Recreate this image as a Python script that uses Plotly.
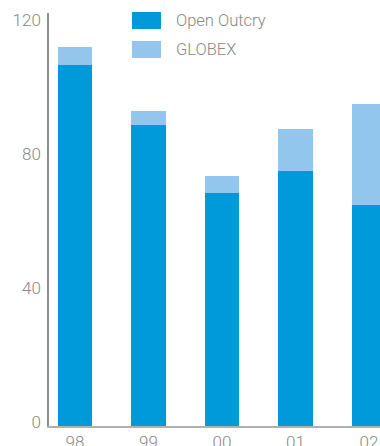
import plotly.graph_objects as go

years = ["98", "99", "00", "01", "02"]
open_outcry = [107.8, 89.9, 69.6, 76.1, 66.0]
globex = [5.4, 4.1, 5.0, 12.6, 30.1]
series_names = ["Open Outcry", "GLOBEX"]
series_colors = ["#0099da", "#93c6ec"]
y_ticks = [0, 40, 80, 120]

grey = "#888888"
font_family = "Roboto, Liberation Sans, Arial, sans-serif"

fig = go.Figure()
for name, vals, col in zip(series_names, [open_outcry, globex], series_colors):
    fig.add_trace(go.Bar(
        x=list(range(len(years))), y=vals, name=name,
        marker=dict(color=col, line=dict(width=0)),
        showlegend=False, hoverinfo="skip",
    ))

# legend drawn as wide swatches with labels
for i, (name, col) in enumerate(zip(series_names, series_colors)):
    top = 12 + i * 29
    fig.add_shape(type="rect", xref="paper", yref="paper",
                  x0=(132 - 49) / 331, x1=(161 - 49) / 331,
                  y0=1 - (top + 17 - 13) / 413, y1=1 - (top - 13) / 413,
                  fillcolor=col, line=dict(width=0), layer="above")
    fig.add_annotation(text=name, xref="paper", yref="paper",
                       x=(174 - 49) / 331, y=1 - (top + 8.5 - 13) / 413,
                       xanchor="left", yanchor="middle", showarrow=False,
                       font=dict(size=16.5, color=grey, family=font_family, weight=300))

fig.update_layout(
    barmode="stack",
    bargap=0.537,
    width=380, height=446,
    margin=dict(l=49, r=0, t=13, b=20),
    plot_bgcolor="white", paper_bgcolor="white",
    font=dict(family=font_family, color=grey),
    xaxis=dict(
        range=[-0.354, 4.15], tickmode="array",
        tickvals=list(range(len(years))), ticktext=years,
        showgrid=False, zeroline=False, showline=True,
        linecolor="#b0b0b0", linewidth=1.5, ticks="",
        ticklabelstandoff=0, automargin=False,
        tickfont=dict(size=17, color=grey, weight=300),
    ),
    yaxis=dict(
        range=[0, 123.3], tickmode="array", tickvals=y_ticks,
        showgrid=False, zeroline=False, showline=True,
        linecolor="#8c8c8c", linewidth=1.5, ticks="",
        ticklabelstandoff=3, ticklabelshift=-4, automargin=False,
        tickfont=dict(size=17, color=grey, weight=300),
    ),
)

fig.write_html("out.html")
